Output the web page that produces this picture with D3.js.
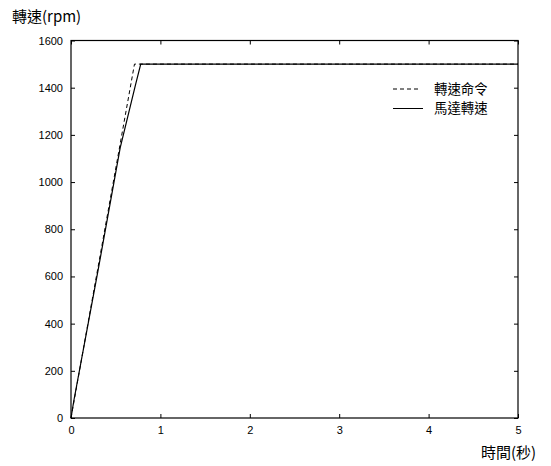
<!DOCTYPE html>
<html><head><meta charset="utf-8">
<script src="https://cdn.jsdelivr.net/npm/d3@7"></script>
<style>
body{margin:0;background:#fff;}
text{font-family:"Liberation Sans",Arial,sans-serif;}
.cjk{font-family:"Noto Sans CJK TC","Noto Sans CJK SC",sans-serif;}
</style></head>
<body><svg id="c" width="551" height="466"></svg>
<script>
const xTicks = [0,1,2,3,4,5];
const yTicks = [0,200,400,600,800,1000,1200,1400,1600];
const cmdT = [0, 0.71, 5];
const cmdV = [0, 1500, 1500];
const motorT = [0, 0.03, 0.3, 0.55, 0.72, 0.78, 5];
const motorV = [0, 70, 620, 1145, 1410, 1500, 1500];
const seriesNames = ["轉速命令","馬達轉速"];

const svg = d3.select("#c");
const L=71, R=518, T=40.5, B=418;
const x = d3.scaleLinear().domain([0,5]).range([L,R]);
const y = d3.scaleLinear().domain([0,1600]).range([B,T]);

svg.append("g").attr("transform",`translate(0,${B})`)
  .call(d3.axisBottom(x).tickValues(xTicks).tickSizeInner(-4).tickSizeOuter(0).tickPadding(8).tickFormat(d3.format("d")))
  .call(g=>{g.select(".domain").remove();g.selectAll("text").attr("font-size",11).attr("font-family","Liberation Sans, Arial, sans-serif");});
svg.append("g").attr("transform",`translate(0,${T})`)
  .call(d3.axisTop(x).tickValues(xTicks).tickSizeInner(-4).tickSizeOuter(0).tickFormat(""))
  .call(g=>g.select(".domain").remove());
svg.append("g").attr("transform",`translate(${L},0)`)
  .call(d3.axisLeft(y).tickValues(yTicks).tickSizeInner(-4).tickSizeOuter(0).tickPadding(8).tickFormat(d3.format("d")))
  .call(g=>{g.select(".domain").remove();g.selectAll("text").attr("font-size",11).attr("font-family","Liberation Sans, Arial, sans-serif");});
svg.append("g").attr("transform",`translate(${R},0)`)
  .call(d3.axisRight(y).tickValues(yTicks).tickSizeInner(-4).tickSizeOuter(0).tickFormat(""))
  .call(g=>g.select(".domain").remove());

svg.append("rect").attr("x",L).attr("y",T).attr("width",R-L).attr("height",B-T)
  .attr("fill","none").attr("stroke","#000").attr("stroke-width",1.2);

const line = d3.line().x(d=>x(d[0])).y(d=>y(d[1]));
svg.append("path").datum(cmdT.map((t,i)=>[t,cmdV[i]])).attr("d",line)
  .attr("fill","none").attr("stroke","#000").attr("stroke-width",1).attr("stroke-dasharray","4,3");
svg.append("path").datum(motorT.map((t,i)=>[t,motorV[i]])).attr("d",line)
  .attr("fill","none").attr("stroke","#000").attr("stroke-width",1.2);

const lg = svg.append("g");
lg.append("line").attr("x1",393).attr("x2",421).attr("y1",89).attr("y2",89)
  .attr("stroke","#000").attr("stroke-dasharray","4,3");
lg.append("line").attr("x1",393).attr("x2",423).attr("y1",108.5).attr("y2",108.5)
  .attr("stroke","#000");
lg.append("text").attr("class","cjk").attr("x",434).attr("y",93.5).attr("font-size",13.4).text(seriesNames[0]);
lg.append("text").attr("class","cjk").attr("x",434).attr("y",113).attr("font-size",13.4).text(seriesNames[1]);

svg.append("text").attr("class","cjk").attr("x",12).attr("y",22).attr("font-size",15).text("轉速(rpm)");
svg.append("text").attr("class","cjk").attr("x",481).attr("y",458).attr("font-size",15).text("時間(秒)");
</script></body></html>
